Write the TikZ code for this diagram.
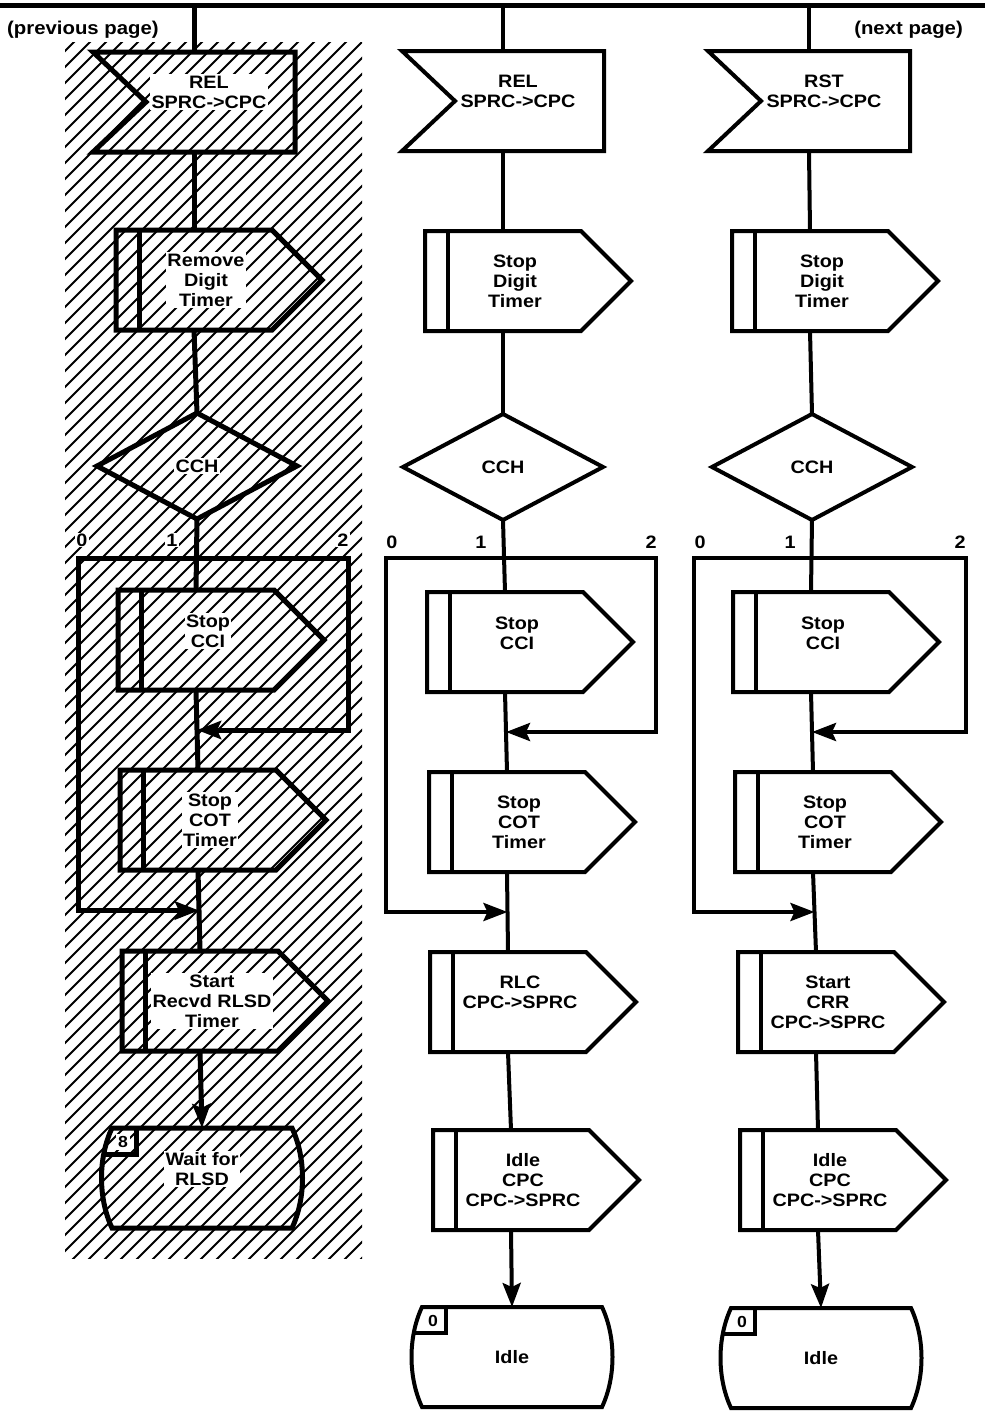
\documentclass[tikz,border=0pt]{standalone}
\usepackage{fontspec}
\setmainfont{Liberation Sans}[FakeStretch=1.1]
\usetikzlibrary{arrows.meta,calc}
\tikzset{
 shp/.style={rectangle, draw=none, inner sep=0pt, outer sep=0pt},
 inshape/.style={shp, minimum width=202pt, minimum height=100pt},
 taskshape/.style={shp, minimum width=156pt, minimum height=100pt},
 decshape/.style={shp, minimum width=200pt, minimum height=106pt},
 waitshape/.style={shp, minimum width=180pt, minimum height=100pt},
 txt/.style={font=\fontsize{18}{20}\selectfont\bfseries, align=center, fill=white, inner sep=1.5pt},
 lbl/.style={font=\fontsize{18}{20}\selectfont\bfseries, fill=white, inner sep=1pt},
 pagelbl/.style={font=\fontsize{18.5}{20}\selectfont\bfseries, inner sep=0pt},
 num/.style={font=\fontsize{16}{16}\selectfont\bfseries, fill=white, inner sep=2pt},
 hatch/.style={line width=1.8pt},
 arr/.style={-{Stealth[length=24pt,width=18pt,inset=4pt]}},
 barr/.style={{Stealth[length=24pt,width=18pt,inset=4pt]}-{Stealth[length=24pt,width=18pt,inset=4pt]}},
 heavy/.style={line width=5pt},
 medium/.style={line width=4pt},
}
\newcommand\inbox[5]{%
 \node[inshape] (#1) at (#2,#3) {};
 \draw (#1.north west) -- (#1.north east) -- (#1.south east) -- (#1.south west) -- ([xshift=53pt]#1.west) -- cycle;
 \node[txt] (#1-t) at ([xshift=15pt,yshift=#5pt]#1.center) {#4};}
\newcommand\taskbox[5]{%
 \node[taskshape] (#1) at (#2,#3) {};
 \draw (#1.north west) -- (#1.north east) -- ++(50,50) -- (#1.south east) -- (#1.south west) -- cycle;
 \draw ([xshift=23pt]#1.north west) -- ([xshift=23pt]#1.south west);
 \node[txt] (#1-t) at ([xshift=12pt,yshift=#5pt]#1.center) {#4};}
\newcommand\decision[4]{%
 \node[decshape] (#1) at (#2,#3) {};
 \draw (#1.west) -- (#1.north) -- (#1.east) -- (#1.south) -- cycle;
 \node[txt] (#1-t) at (#1.center) {#4};}
\newcommand\waitstate[6]{%
 \node[waitshape] (#1) at (#2,#3) {};
 \draw (#1.south west) .. controls +(-14,-30) and +(-14,30) .. (#1.north west) -- (#1.north east) .. controls +(14,30) and +(14,-30) .. (#1.south east) -- cycle;
 \node[num] (#1-n) at ([xshift=11pt,yshift=-14pt]#1.north west) {#6};
 \draw ([xshift=24pt]#1.north west) -- ++(0,26) -- ++(-32,0);
 \node[txt] (#1-t) at ([yshift=#5pt]#1.center) {#4};}
\begin{document}
\begin{tikzpicture}[x=1pt,y=-1pt]
\useasboundingbox (0,0) rectangle (985,1411);
% hatched area of the first column
\begin{scope}
\clip (65,42) rectangle (362,1258);
\foreach \x in {-1160,-1144,...,362} \draw[hatch] (\x,1260) -- ++(1225,-1225);
\end{scope}
% top bar and page labels
\coordinate (barL) at (0,5);
\coordinate (barR) at (985,5);
\draw[line width=5pt] (barL) -- (barR);
\node[pagelbl, anchor=west] (prev) at (7,30) {(previous page)};
\node[pagelbl, anchor=east] (next) at (963,30) {(next page)};
% ---------- column 1 ----------
\begin{scope}[heavy]
\inbox{in1}{194}{102}{REL\\SPRC->CPC}{10}
\taskbox{t1}{194}{280}{Remove\\Digit\\Timer}{0}
\decision{d1}{197}{466}{CCH}
\taskbox{c1}{196}{640}{Stop\\CCI}{9}
\taskbox{o1}{198}{820}{Stop\\COT\\Timer}{0}
\taskbox{s1}{200}{1001}{Start\\Recvd RLSD\\Timer}{0}
\waitstate{w1}{202}{1178}{Wait for\\RLSD}{9}{8}
\draw (in1.north |- barL) -- (in1.north);
\draw (in1.south) -- (t1.north);
\draw (t1.south) -- (d1.north);
\draw (d1.south) -- (c1.north);
\draw (c1.south) -- (o1.north);
\draw (o1.south) -- (s1.north);
\draw[arr] (s1.south) -- (w1.north);
\coordinate (L1) at (78,558);
\coordinate (R1) at (348,558);
\coordinate (m1a) at ($(c1.south)!0.5!(o1.north)$);
\coordinate (m1b) at ($(o1.south)!0.5!(s1.north)$);
\draw[barr] (m1b) -| (L1) -- (R1) |- (m1a);
\node[lbl] (z1) at (82,540) {0};
\node[lbl] (u1) at (172,540) {1};
\node[lbl] (v1) at (343,540) {2};
\end{scope}
% ---------- column 2 ----------
\begin{scope}[medium]
\inbox{in2}{503}{101}{REL\\SPRC->CPC}{10}
\taskbox{t2}{503}{281}{Stop\\Digit\\Timer}{0}
\decision{d2}{503}{467}{CCH}
\taskbox{c2}{505}{642}{Stop\\CCI}{9}
\taskbox{o2}{507}{822}{Stop\\COT\\Timer}{0}
\taskbox{r2}{508}{1002}{RLC\\CPC->SPRC}{10}
\taskbox{i2}{511}{1180}{Idle\\CPC\\CPC->SPRC}{0}
\waitstate{w2}{512}{1357}{Idle}{0}{0}
\draw (in2.north |- barL) -- (in2.north);
\draw (in2.south) -- (t2.north);
\draw (t2.south) -- (d2.north);
\draw (d2.south) -- (c2.north);
\draw (c2.south) -- (o2.north);
\draw (o2.south) -- (r2.north);
\draw (r2.south) -- (i2.north);
\draw[arr] (i2.south) -- (w2.north);
\coordinate (L2) at (386,558);
\coordinate (R2) at (656,558);
\coordinate (m2a) at ($(c2.south)!0.5!(o2.north)$);
\coordinate (m2b) at ($(o2.south)!0.5!(r2.north)$);
\draw[barr] (m2b) -| (L2) -- (R2) |- (m2a);
\node[lbl] (z2) at (392,542) {0};
\node[lbl] (u2) at (481,542) {1};
\node[lbl] (v2) at (651,542) {2};
\end{scope}
% ---------- column 3 ----------
\begin{scope}[medium]
\inbox{in3}{809}{101}{RST\\SPRC->CPC}{10}
\taskbox{t3}{810}{281}{Stop\\Digit\\Timer}{0}
\decision{d3}{812}{467}{CCH}
\taskbox{c3}{811}{642}{Stop\\CCI}{9}
\taskbox{o3}{813}{822}{Stop\\COT\\Timer}{0}
\taskbox{r3}{816}{1002}{Start\\CRR\\CPC->SPRC}{0}
\taskbox{i3}{818}{1180}{Idle\\CPC\\CPC->SPRC}{0}
\waitstate{w3}{821}{1358}{Idle}{0}{0}
\draw (in3.north |- barL) -- (in3.north);
\draw (in3.south) -- (t3.north);
\draw (t3.south) -- (d3.north);
\draw (d3.south) -- (c3.north);
\draw (c3.south) -- (o3.north);
\draw (o3.south) -- (r3.north);
\draw (r3.south) -- (i3.north);
\draw[arr] (i3.south) -- (w3.north);
\coordinate (L3) at (694,558);
\coordinate (R3) at (966,558);
\coordinate (m3a) at ($(c3.south)!0.5!(o3.north)$);
\coordinate (m3b) at ($(o3.south)!0.5!(r3.north)$);
\draw[barr] (m3b) -| (L3) -- (R3) |- (m3a);
\node[lbl] (z3) at (700,542) {0};
\node[lbl] (u3) at (790,542) {1};
\node[lbl] (v3) at (960,542) {2};
\end{scope}
\end{tikzpicture}
\end{document}
